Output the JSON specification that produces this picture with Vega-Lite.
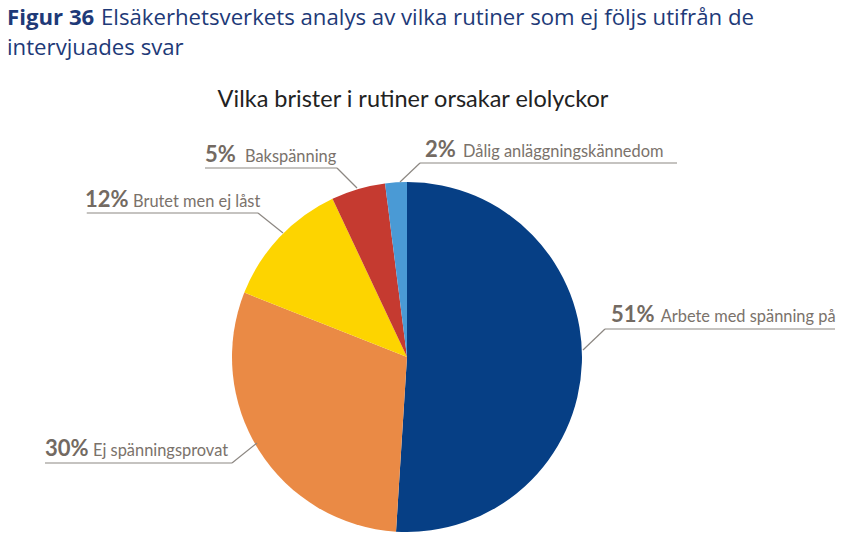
{
  "$schema": "https://vega.github.io/schema/vega-lite/v6.json",
  "width": 814,
  "height": 394,
  "autosize": {"type": "none"},
  "padding": {"left": 0, "top": 160, "right": 34, "bottom": 0},
  "background": "white",
  "config": {"view": {"stroke": null}},
  "datasets": {
    "pie": [
      {"kategori": "Arbete med spänning på", "andel": 51, "ord": 1},
      {"kategori": "Ej spänningsprovat", "andel": 30, "ord": 2},
      {"kategori": "Brutet men ej låst", "andel": 12, "ord": 3},
      {"kategori": "Bakspänning", "andel": 5, "ord": 4},
      {"kategori": "Dålig anläggningskännedom", "andel": 2, "ord": 5}
    ],
    "labels": [
      {"pct": "51%", "name": "Arbete med spänning på", "px": 116.57, "tx": 144.97, "y": 20},
      {"pct": "30%", "name": "Ej spänningsprovat", "px": -206.86, "tx": -179.43, "y": -56.57},
      {"pct": "12%", "name": "Brutet men ej låst", "px": -184, "tx": -156.57, "y": 85.71},
      {"pct": "5%", "name": "Bakspänning", "px": -115.43, "tx": -92.57, "y": 111.43},
      {"pct": "2%", "name": "Dålig anläggningskännedom", "px": 10.29, "tx": 32, "y": 114.29}
    ],
    "lines": [
      {"x": 100.57, "y": 4, "x2": 113.14, "y2": 16},
      {"x": 113.14, "y": 16, "x2": 244.57, "y2": 16},
      {"x": -206.86, "y": -60.57, "x2": -100, "y2": -60.57},
      {"x": -100, "y": -60.57, "x2": -85.71, "y2": -49.14},
      {"x": -183, "y": 82.29, "x2": -85.14, "y2": 82.29},
      {"x": -85.14, "y": 82.29, "x2": -70.86, "y2": 70.86},
      {"x": -115.43, "y": 108, "x2": -40, "y2": 108},
      {"x": -40, "y": 108, "x2": -28.57, "y2": 96.57},
      {"x": 7.43, "y": 110.86, "x2": 154.29, "y2": 110.86},
      {"x": 7.43, "y": 110.86, "x2": -4, "y2": 100}
    ],
    "heading_bold": [
      {"text": "Figur 36", "x": -228.57, "y": 189.71}
    ],
    "heading": [
      {"text": "Elsäkerhetsverkets analys av vilka rutiner som ej följs utifrån de", "x": -174.86, "y": 189.71},
      {"text": "intervjuades svar", "x": -228.57, "y": 172.57}
    ],
    "charttitle": [
      {"text": "Vilka brister i rutiner orsakar elolyckor", "x": 3.43, "y": 142.86}
    ]
  },
  "layer": [
    {
      "data": {"name": "pie"},
      "mark": {"type": "arc", "outerRadius": 175},
      "encoding": {
        "theta": {"field": "andel", "type": "quantitative", "stack": true},
        "order": {"field": "ord", "type": "quantitative"},
        "color": {
          "field": "kategori",
          "type": "nominal",
          "legend": null,
          "scale": {
            "domain": ["Arbete med spänning på", "Ej spänningsprovat", "Brutet men ej låst", "Bakspänning", "Dålig anläggningskännedom"],
            "range": ["#063f85", "#ea8a45", "#fdd400", "#c53a30", "#4a9ad5"]
          }
        }
      }
    },
    {
      "data": {"name": "lines"},
      "mark": {"type": "rule", "color": "#8c8782", "strokeWidth": 1.2},
      "encoding": {
        "x": {"field": "x", "type": "quantitative", "axis": null, "scale": {"domain": [-232.571, 232.571], "nice": false, "zero": false}},
        "y": {"field": "y", "type": "quantitative", "axis": null, "scale": {"domain": [-112.571, 112.571], "nice": false, "zero": false}},
        "x2": {"field": "x2"},
        "y2": {"field": "y2"}
      }
    },
    {
      "data": {"name": "labels"},
      "mark": {"type": "text", "align": "left", "baseline": "alphabetic", "font": "Lato", "fontSize": 22, "fontWeight": "bold", "color": "#736a62"},
      "encoding": {
        "x": {"field": "px", "type": "quantitative"},
        "y": {"field": "y", "type": "quantitative"},
        "text": {"field": "pct"}
      }
    },
    {
      "data": {"name": "labels"},
      "mark": {"type": "text", "align": "left", "baseline": "alphabetic", "font": "Lato", "fontSize": 16.4, "color": "#7a726b"},
      "encoding": {
        "x": {"field": "tx", "type": "quantitative"},
        "y": {"field": "y", "type": "quantitative"},
        "text": {"field": "name"}
      }
    },
    {
      "data": {"name": "heading_bold"},
      "mark": {"type": "text", "align": "left", "baseline": "alphabetic", "font": "Open Sans", "fontSize": 22.2, "fontWeight": "bold", "color": "#1e3a78"},
      "encoding": {
        "x": {"field": "x", "type": "quantitative"},
        "y": {"field": "y", "type": "quantitative"},
        "text": {"field": "text"}
      }
    },
    {
      "data": {"name": "heading"},
      "mark": {"type": "text", "align": "left", "baseline": "alphabetic", "font": "Open Sans", "fontSize": 22.2, "color": "#1e3a78"},
      "encoding": {
        "x": {"field": "x", "type": "quantitative"},
        "y": {"field": "y", "type": "quantitative"},
        "text": {"field": "text"}
      }
    },
    {
      "data": {"name": "charttitle"},
      "mark": {"type": "text", "align": "center", "baseline": "alphabetic", "font": "Lato", "fontSize": 23.5, "color": "#222222"},
      "encoding": {
        "x": {"field": "x", "type": "quantitative"},
        "y": {"field": "y", "type": "quantitative"},
        "text": {"field": "text"}
      }
    }
  ]
}
